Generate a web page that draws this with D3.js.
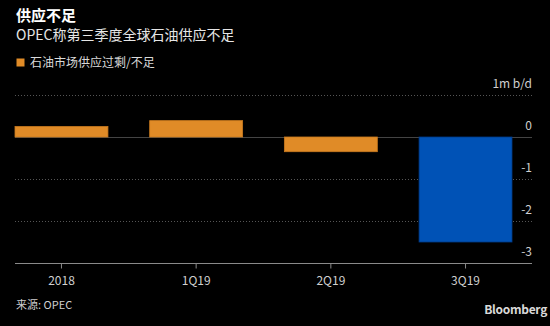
<!DOCTYPE html>
<html>
<head>
<meta charset="utf-8">
<script src="https://cdn.jsdelivr.net/npm/d3@7"></script>
<style>
  html, body { margin: 0; padding: 0; background: #000; }
  svg { display: block; }
  text { font-family: "Noto Sans CJK SC", "Noto Sans", sans-serif; }
</style>
</head>
<body>
<svg id="chart" width="550" height="326"></svg>
<script>
// Quarterly market balance (million barrels per day)
const categories = ["2018", "1Q19", "2Q19", "3Q19"];
const balance = [0.25, 0.39, -0.35, -2.5];
const yTicks = [1, 0, -1, -2, -3];

const title = "供应不足";
const subtitle = "OPEC称第三季度全球石油供应不足";
const legendLabel = "石油市场供应过剩/不足";
const unitLabel = "1m b/d";
const sourceLabel = "来源: OPEC";

const svg = d3.select("#chart");
const W = 550, H = 326;
svg.append("rect").attr("width", W).attr("height", H).attr("fill", "#000");

const left = 15, right = 532, barsRight = 512;

const x = d3.scaleBand()
  .domain(categories)
  .range([left, barsRight])
  .paddingInner(0.31)
  .paddingOuter(0);

const y = d3.scaleLinear().domain([-3, 1]).range([263, 95]);

// Header
svg.append("text").attr("x", 16).attr("y", 21)
  .attr("fill", "#fff").attr("font-size", 15).attr("font-weight", "bold")
  .text(title);
svg.append("text").attr("x", 16).attr("y", 40)
  .attr("fill", "#e6e6e6").attr("font-size", 14)
  .text(subtitle);

// Legend
svg.append("rect").attr("x", 16.5).attr("y", 58.5).attr("width", 8).attr("height", 8)
  .attr("fill", "#e08b27");
svg.append("text").attr("x", 30).attr("y", 67)
  .attr("fill", "#d9d9d9").attr("font-size", 12)
  .text(legendLabel);

// Gridlines
const grid = svg.append("g");
yTicks.forEach(t => {
  if (t === -3) return;
  grid.append("line")
    .attr("x1", left).attr("x2", right)
    .attr("y1", Math.round(y(t)) + 0.5).attr("y2", Math.round(y(t)) + 0.5)
    .attr("stroke", t === 0 ? "#444" : "#555")
    .attr("stroke-width", 1)
    .attr("stroke-dasharray", t === 0 ? null : "1,2");
});

// Y labels on the right, sitting just above each line
const yLabels = svg.append("g");
yTicks.forEach(t => {
  yLabels.append("text")
    .attr("x", right).attr("y", y(t) - 7)
    .attr("text-anchor", "end")
    .attr("fill", "#cfcfcf").attr("font-size", 12)
    .text(t === 1 ? unitLabel : (t < 0 ? "-" + Math.abs(t) : String(t)));
});

// Bars
svg.append("g").selectAll("rect")
  .data(categories.map((c, i) => ({ c, v: balance[i] })))
  .join("rect")
  .attr("x", d => x(d.c))
  .attr("width", x.bandwidth())
  .attr("y", d => y(Math.max(0, d.v)))
  .attr("height", d => Math.abs(y(d.v) - y(0)))
  .attr("fill", d => d.c === "3Q19" ? "#0052b6" : "#e08b27")
  .attr("stroke", d => d.c === "3Q19" ? "#003a85" : "#c97a1e")
  .attr("stroke-width", 0.8);

// X axis
const xAxis = d3.axisBottom(x).tickSize(5).tickSizeOuter(0).tickPadding(8);
const gx = svg.append("g").attr("transform", `translate(0,${Math.round(y(-3)) + 0.5})`).call(xAxis);
gx.select(".domain").remove();
gx.insert("line", ":first-child")
  .attr("x1", left).attr("x2", right).attr("y1", 0).attr("y2", 0)
  .attr("stroke", "#8a8a8a");
gx.selectAll(".tick line").attr("stroke", "#8a8a8a");
gx.selectAll(".tick text")
  .attr("fill", "#cfcfcf").attr("font-size", 12)
  .attr("font-family", "'Noto Sans CJK SC', 'Noto Sans', sans-serif");

// Footer
svg.append("text").attr("x", 16).attr("y", 309)
  .attr("fill", "#cfcfcf").attr("font-size", 11)
  .text(sourceLabel);
svg.append("text").attr("x", 547).attr("y", 314)
  .attr("text-anchor", "end")
  .attr("fill", "#d9d9d9").attr("font-size", 12).attr("font-weight", "bold")
  .attr("font-family", "'Liberation Sans', Arial, sans-serif")
  .attr("letter-spacing", -0.3)
  .text("Bloomberg");
</script>
</body>
</html>
